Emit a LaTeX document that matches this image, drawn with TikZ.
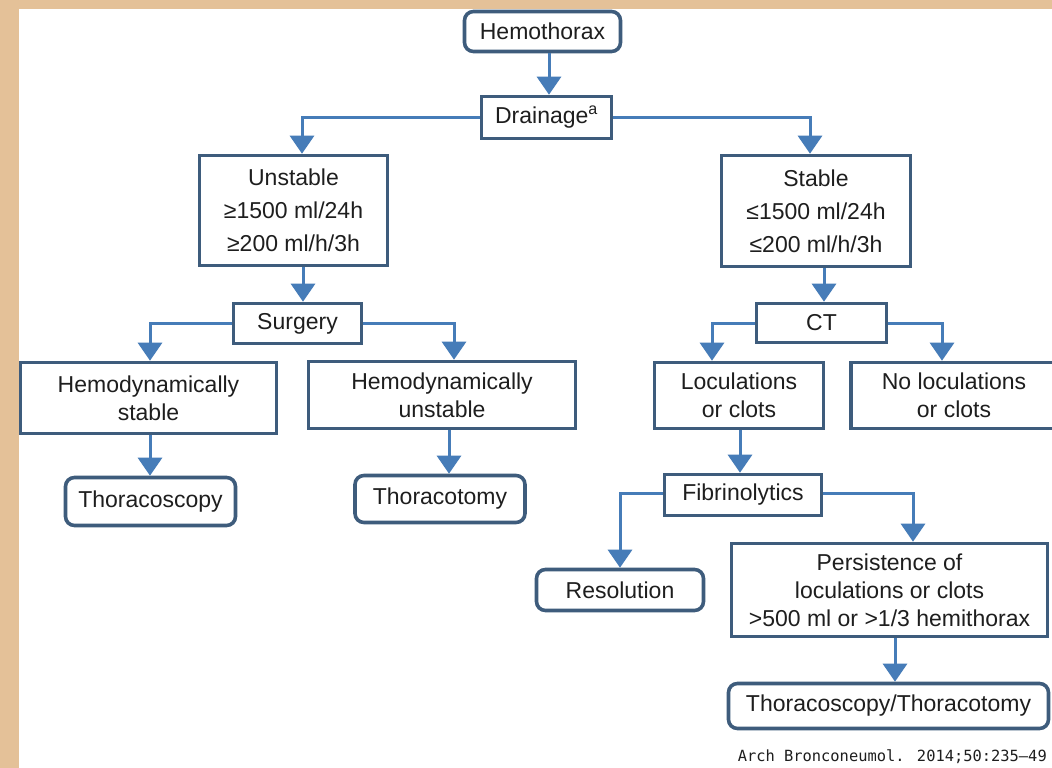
\documentclass[tikz,border=0pt]{standalone}
\usepackage{fontspec}
\setmainfont{Liberation Sans}
\newfontfamily\citefont{DejaVu Sans Mono}
\usetikzlibrary{arrows.meta}
\definecolor{bordc}{RGB}{62,92,124}
\definecolor{arrc}{RGB}{70,124,184}
\definecolor{txtc}{RGB}{30,30,30}
\definecolor{bgc}{RGB}{228,193,152}
\tikzset{
  box/.style={draw=bordc, line width=3.6pt, fill=white, inner sep=0pt, align=center,
    text=txtc, font=\fontsize{23}{28}\selectfont},
  rbox/.style={box, rounded corners=9pt},
  arr/.style={draw=arrc, line width=3pt, -{Triangle[width=24pt,length=18pt]}},
}
\begin{document}
\begin{tikzpicture}[x=1pt,y=-1pt]
\useasboundingbox (0,0) rectangle (1052,768);
\fill[bgc] (0,0) rectangle (1052,768);
\fill[white] (19,9) rectangle (1052,768);

\node[rbox, minimum width=156pt, minimum height=40pt] (hemo) at (542.5,31.5) {Hemothorax};
\node[box, minimum width=130pt, minimum height=42pt] (drain) at (546.5,117.5) {Drainage\textsuperscript{a}};
\node[box, minimum width=188pt, minimum height=110pt, font=\fontsize{23}{33}\selectfont] (unst) at (293.5,210.5) {Unstable\\≥1500 ml/24h\\≥200 ml/h/3h};
\node[box, minimum width=189pt, minimum height=111pt, font=\fontsize{23}{33}\selectfont] (stab) at (816,211) {Stable\\≤1500 ml/24h\\≤200 ml/h/3h};
\node[box, minimum width=128pt, minimum height=40pt] (surg) at (297.5,323.5) {Surgery};
\node[box, minimum width=130pt, minimum height=39pt] (ct) at (821.5,323) {CT};
\node[box, minimum width=256pt, minimum height=71pt] (hstab) at (148.5,398) {Hemodynamically\\stable};
\node[box, minimum width=267pt, minimum height=67pt] (hunst) at (442,395) {Hemodynamically\\unstable};
\node[box, minimum width=169pt, minimum height=66pt] (loc) at (739,395.5) {Loculations\\or clots};
\node[box, minimum width=206pt, minimum height=66pt] (noloc) at (954,395.5) {No loculations\\or clots};
\node[rbox, minimum width=170pt, minimum height=48pt] (thscopy) at (150.5,501.5) {Thoracoscopy};
\node[rbox, minimum width=170pt, minimum height=47pt] (thtomy) at (440,499) {Thoracotomy};
\node[box, minimum width=157pt, minimum height=41pt] (fib) at (743,495) {Fibrinolytics};
\node[rbox, minimum width=167pt, minimum height=41pt] (res) at (620,590) {Resolution};
\node[box, minimum width=316pt, minimum height=93pt] (pers) at (889.5,590) {Persistence of\\loculations or clots\\>500 ml or >1/3 hemithorax};
\node[rbox, minimum width=320pt, minimum height=45pt] (tt) at (888.5,706) {Thoracoscopy/Thoracotomy};

\node[anchor=east, inner sep=0pt, text=txtc, font=\citefont\fontsize{15.4}{18}\selectfont] (cite) at (1047,757) {Arch Bronconeumol. 2014;50:235–49};

\draw[arr] ([xshift=6.5pt]hemo.south) -- ([xshift=6.5pt]hemo.south |- drain.north);
\draw[arr] (drain.west) -| ([xshift=8.5pt]unst.north);
\draw[arr] (drain.east) -| ([xshift=-6pt]stab.north);
\draw[arr] ([xshift=9.5pt]unst.south) -- ([xshift=9.5pt]unst.south |- surg.north);
\draw[arr] ([xshift=8pt]stab.south) -- ([xshift=8pt]stab.south |- ct.north);
\draw[arr] (surg.west) -| ([xshift=1.5pt]hstab.north);
\draw[arr] (surg.east) -| ([xshift=12pt]hunst.north);
\draw[arr] (ct.west) -| ([xshift=-27pt]loc.north);
\draw[arr] (ct.east) -| ([xshift=-12pt]noloc.north);
\draw[arr] ([xshift=1.5pt]hstab.south) -- ([xshift=1.5pt]hstab.south |- thscopy.north);
\draw[arr] ([xshift=7pt]hunst.south) -- ([xshift=7pt]hunst.south |- thtomy.north);
\draw[arr] ([xshift=1pt]loc.south) -- ([xshift=1pt]loc.south |- fib.north);
\draw[arr] ([yshift=2pt]fib.west) -| (res.north);
\draw[arr] ([yshift=2pt]fib.east) -| ([xshift=23.5pt]pers.north);
\draw[arr] ([xshift=5.5pt]pers.south) -- ([xshift=5.5pt]pers.south |- tt.north);
\end{tikzpicture}
\end{document}
